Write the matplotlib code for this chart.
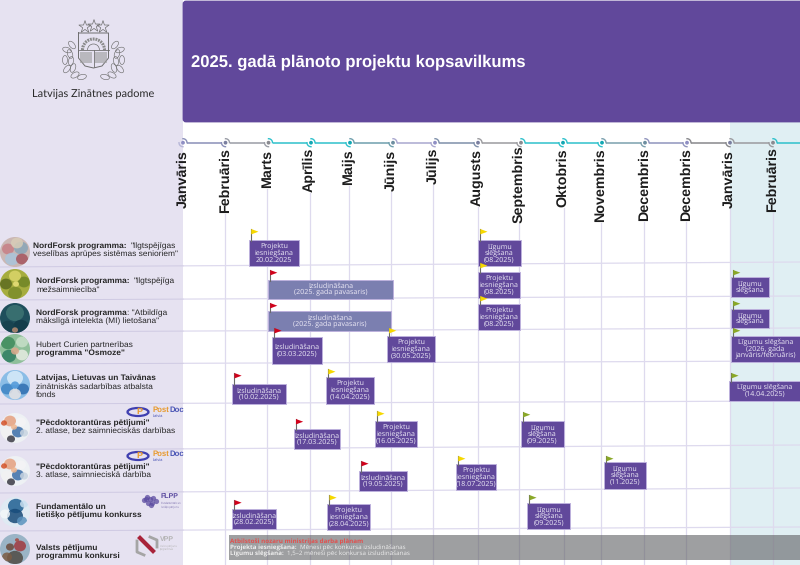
import numpy as np
import matplotlib
matplotlib.use("Agg")
import matplotlib.pyplot as plt
from matplotlib.patches import Rectangle, FancyBboxPatch, Circle, Ellipse, Polygon, Arc

plt.rcParams["text.hinting"] = "no_hinting"
plt.rcParams["text.hinting_factor"] = 8

# ---------- data ----------
title = "2025. gadā plānoto projektu kopsavilkums"
org_name = "Latvijas Zinātnes padome"
month_names = ["Janvāris", "Februāris", "Marts", "Aprīlis", "Maijs", "Jūnijs", "Jūlijs", "Augusts",
               "Septembris", "Oktobris", "Novembris", "Decembris", "Decembris", "Janvāris", "Februāris"]
month_index = list(range(16))

event_text = [
    "Projektu\niesniegšana\n20.02.2025", "Līgumu\nslēgšana\n(08.2025)",
    "Izsludināšana\n(2025. gada pavasaris)", "Projektu\niesniegšana\n(08.2025)", "Līgumu\nslēgšana",
    "Izsludināšana\n(2025. gada pavasaris)", "Projektu\niesniegšana\n(08.2025)", "Līgumu\nslēgšana",
    "Izsludināšana\n(03.03.2025)", "Projektu\niesniegšana\n(30.05.2025)",
    "Līgumu slēgšana\n(2026. gada\njanvāris/februāris)",
    "Izsludināšana\n(10.02.2025)", "Projektu\niesniegšana\n(14.04.2025)", "Līgumu slēgšana\n(14.04.2025)",
    "Izsludināšana\n(17.03.2025)", "Projektu\niesniegšana\n(16.05.2025)", "Līgumu\nslēgšana\n(09.2025)",
    "Izsludināšana\n(19.05.2025)", "Projektu\niesniegšana\n(18.07.2025)", "Līgumu\nslēgšana\n(11.2025)",
    "Izsludināšana\n(28.02.2025)", "Projektu\niesniegšana\n(28.04.2025)", "Līgumu\nslēgšana\n(09.2025)",
]
event_start = [1.57, 7.0, 2.02, 7.0, 13.02, 2.02, 7.0, 13.02, 2.12, 4.9, 13.02, 1.17, 3.41, 12.98,
               2.62, 4.62, 8.04, 4.24, 6.51, 10.07, 1.17, 3.44, 8.18]
event_end = [2.74, 8.04, 5.05, 8.02, 13.9, 5.01, 8.02, 13.9, 3.3, 6.04, 14.63, 2.44, 4.59, 14.63,
             3.77, 5.62, 9.0, 5.38, 7.44, 11.05, 2.21, 4.5, 9.16]
event_flag = ["y", "y", "r", "y", "g", "r", "y", "g", "r", "y", "g", "r", "y", "g",
              "r", "y", "g", "r", "y", "g", "r", "y", "g"]

# ---------- layout ----------
month_px = [183, 225, 267, 310, 349, 391, 433, 478, 519, 564, 601, 644, 686, 730, 773, 816]
node_px = [183, 225.5, 268.5, 311, 350, 393, 435, 478, 521, 563, 602, 645, 687, 730, 773]
label_px = [183, 225, 267, 309, 349, 391, 433, 477, 519, 563, 600, 644, 686, 729, 772]
label_top = [150, 148, 150, 148, 149, 150, 148, 149, 145, 148, 148, 148, 148, 150, 147]
event_top = [240, 240, 280, 272, 277, 311, 304, 309, 337, 336, 336, 384, 377, 381,
             429, 421, 421, 471, 464, 462, 509, 504, 503]
event_bot = [266, 266, 299, 298, 297, 331, 330, 328, 364, 362, 362, 404, 404, 401,
             449, 447, 447, 491, 490, 489, 529, 530, 529]
flag_top = [229, 229, 270, 263, 270, 303, 296, 301, 328, 328, 328, 373, 369, 373,
            419, 411, 412, 461, 456, 456, 500, 495, 495]
flag_off = 2
row_left = [267, 300, 332, 364, 404, 450, 493, 531]
row_right = [262, 296, 328, 361, 401, 445, 488, 527]
seg_colors = ["#8a8fb8", "#9a9da6", "#2fc1cb", "#2fc1cb", "#6f9fad", "#aaa8cf", "#7f90aa", "#9b9b9f",
              "#2fc1cb", "#2fc1cb", "#7ba0ae", "#9094bd", "#88888c", "#9b9b9f", "#2fc1cb"]
node_colors = ["#8f8fc4", "#7a7fa0", "#8a8a90", "#12a7b3", "#12a7b3", "#6d8ea0", "#8f8fc4", "#7a7fa0",
               "#8a8a90", "#12a7b3", "#12a7b3", "#6d8ea0", "#8f8fc4", "#7a7fa0", "#8a8a90"]
flag_colors = {"r": "#d0021b", "y": "#f6d800", "g": "#8aa827"}
PURPLE, PANEL = "#61489b", "#e6e2f1"
SANS, OPEN = "Liberation Sans", "Open Sans"


def mx(m):
    return float(np.interp(m, month_index, month_px))


fig = plt.figure(figsize=(8, 5.65), dpi=100)
ax = fig.add_axes([0, 0, 1, 1])
ax.set_xlim(0, 800)
ax.set_ylim(565, 0)
ax.axis("off")

# backgrounds
ax.add_patch(Rectangle((730, 122), 70, 443, fc="#e0eff3", ec="none", zorder=0))
ax.add_patch(Rectangle((0, 0), 183, 565, fc=PANEL, ec="none", zorder=6))
ax.add_patch(FancyBboxPatch((184, 2), 640, 119, boxstyle="round,pad=0,rounding_size=2",
                            fc=PURPLE, ec=PURPLE, lw=2, zorder=7, clip_on=True))
title_artist = ax.text(191, 62, title, color="white", fontsize=12.0, fontweight="bold", family=SANS,
                       va="center", ha="left", zorder=8)

# timeline
TY = 142.7
th = np.linspace(0, np.pi / 2, 12)
for i in range(len(node_px)):
    x0 = node_px[i]
    x1 = node_px[i + 1] - 4 if i + 1 < len(node_px) else 800
    ax.plot([x0 + 4, x1], [TY, TY], color=seg_colors[i], lw=1.1, zorder=2, solid_capstyle="butt")
    ax.add_patch(Circle((x0, TY), 1.9, fc=node_colors[i], ec="none", zorder=8))
    # hook into the next segment (upper right) and back towards the previous one (lower left)
    ax.plot(x0 + 4 * np.sin(th), TY - 4 * np.cos(th), color=seg_colors[i], lw=1.0, zorder=8)
    ax.plot(x0 - 4 * np.cos(th), TY + 4 * np.sin(th), color=seg_colors[i - 1] if i else "#b7b7d8",
            lw=1.0, zorder=8)

fig.canvas.draw()
rend = fig.canvas.get_renderer()
inv = ax.transData.inverted()

# month labels + grid
for i, name in enumerate(month_names):
    t = ax.text(label_px[i], label_top[i], name, rotation=90, ha="center", va="top", fontsize=10.3,
                family=SANS, fontweight="bold", color="#1c1c1c", zorder=8)
    ybot = inv.transform((0, t.get_window_extent(rend).y0))[1]
    if i > 0:
        ax.plot([month_px[i], month_px[i]], [ybot + 1, 565], color="#dedaee", lw=0.9, zorder=1)

# row separators
for yl, yr in zip(row_left, row_right):
    ax.plot([0, 800], [yl, yr], color="#dedaee", lw=0.9, zorder=1)
    ax.plot([0, 183], [yl, yl - 183 * (yl - yr) / 800], color="#cfcae3", lw=0.7, zorder=6.5)

# events
for s, e, tp, bt, ft, fl, tx in zip(event_start, event_end, event_top, event_bot, flag_top, event_flag, event_text):
    x0, x1 = mx(s), mx(e)
    fc = "#7b7fb0" if "pavasaris" in tx else PURPLE
    ax.add_patch(Rectangle((x0, tp), x1 - x0, bt - tp, fc=fc, ec="#bdb1dd", lw=0.7, zorder=4))
    ax.text((x0 + x1) / 2, (tp + bt) / 2, tx, color="#ece9f6", fontsize=5.1, family=OPEN,
            ha="center", va="center", linespacing=0.92, zorder=5, clip_on=True)
    px = x0 + flag_off
    ax.plot([px, px], [ft, tp + 1], color="#6a6a6a", lw=0.8, zorder=5)
    ax.add_patch(Polygon([(px + .3, ft), (px + 7.5, ft + 2.7), (px + .3, ft + 5.4)],
                         closed=True, fc=flag_colors[fl], ec="none", zorder=5))

# grey note band
ax.add_patch(Rectangle((229, 535), 571, 25, fc="#5e5f62", alpha=0.6, ec="none", zorder=5))
ax.text(230, 541.6, "Atbilstoši nozaru ministrijas darba plānam", color="#e2504e", fontsize=4.5,
        family=OPEN, fontweight="bold", va="center", zorder=6)


def runs(x, y, parts, size=6.0, color="#262626", zorder=8, family=SANS):
    for txt, bold in parts:
        t = ax.text(x, y, txt, fontsize=size, family=family, color=color, va="center", ha="left",
                    fontweight="bold" if bold else "normal", zorder=zorder)
        x = inv.transform((t.get_window_extent(rend).x1, 0))[0]
        if txt.endswith(" "):
            x += size * 0.38


runs(230, 547.8, [("Projekta iesniegšana: ", True), ("Mēnesi pēc konkursa izsludināšanas", False)],
     size=4.5, color="#eeeeee", family=OPEN)
runs(230, 554, [("Līgumu slēgšana: ", True), ("1,5–2 mēneši pēc konkursa izsludināšanas", False)],
     size=4.5, color="#eeeeee", family=OPEN)

# left labels
runs(33, 246, [("NordForsk programma: ", True), ("\"Ilgtspējīgas", False)])
runs(33, 254.3, [("veselības aprūpes sistēmas senioriem\"", False)])
runs(36, 281, [("NordForsk programma: ", True), ("\"Ilgtspējīga", False)])
runs(36, 289.5, [("mežsaimniecība\"", False)])
runs(36, 313, [("NordForsk programma", True), (": \"Atbildīga", False)])
runs(36, 321.3, [("mākslīgā intelekta (MI) lietošana\"", False)])
runs(36, 345, [("Hubert Curien partnerības", False)])
runs(36, 353.3, [("programma \"Osmoze\"", True)])
runs(36, 378.5, [("Latvijas, Lietuvas un Taivānas", True)])
runs(36, 387, [("zinātniskās sadarbības atbalsta", False)])
runs(36, 395, [("fonds", False)])
runs(36, 423.3, [("\"Pēcdoktorantūras pētījumi\"", True)])
runs(36, 431, [("2. atlase, bez saimnieciskās darbības", False)])
runs(36, 467, [("\"Pēcdoktorantūras pētījumi\"", True)])
runs(36, 475.3, [("3. atlase, saimnieciskā darbība", False)])
runs(36, 506.5, [("Fundamentālo un", True)])
runs(36, 515, [("lietišķo pētījumu konkurss", True)])
runs(36, 548, [("Valsts pētījumu", True)])
runs(36, 556.5, [("programmu konkursi", True)])


def photo(cx, cy, base, blobs, r=15):
    clip = Circle((cx, cy), r, transform=ax.transData)
    ax.add_patch(Circle((cx, cy), r, fc=base, ec="none", zorder=7))
    for dx, dy, br, c in blobs:
        p = Ellipse((cx + dx, cy + dy), 2 * br, 2 * br * 0.9, fc=c, ec="none", alpha=0.85, zorder=7.1)
        ax.add_patch(p)
        p.set_clip_path(clip)


team = [(-5, -7, 6, "#e5a07f"), (6, -6, 5, "#f4f4f6"), (-8, 5, 6, "#f2f2f2"), (3, 4, 6, "#3b6ea8"),
        (-1, -1, 3, "#eeb48e"), (9, 5, 4, "#c8d4e0"), (-4, 11, 4, "#3a3a44"), (-11, -5, 3, "#d4532a")]
photo(15, 252, "#cbb7b4", [(-7, -3, 6, "#c77f86"), (6, -4, 7, "#8aa6b8"), (-3, 7, 7, "#a9c4da"),
                           (7, 7, 6, "#a6545e"), (2, -9, 6, "#d8cdb8")])
photo(15, 284, "#a6ad3f", [(-9, 0, 6, "#5d6c20"), (9, -2, 6, "#6f8426"), (0, -8, 6, "#dbd66a"),
                           (0, 9, 7, "#7b8d2a"), (1, 0, 3, "#e9e07a")])
photo(15, 318, "#1f4f5c", [(0, -5, 9, "#3d7473"), (6, 9, 8, "#123a48"), (-7, 9, 7, "#17414e"),
                           (0, 12, 3, "#b98d73")])
photo(15, 349, "#8fbf9a", [(-7, -6, 7, "#3d8a5b"), (7, -7, 6, "#c7e0c8"), (-6, 7, 7, "#2f7d62"),
                           (7, 6, 6, "#e7ece2"), (0, 2, 4, "#dca98c")])
photo(15, 385, "#8bbde6", [(0, -7, 8, "#d8ecf9"), (-8, 4, 6, "#3e84c4"), (8, 4, 6, "#2f6db0"),
                           (0, 9, 6, "#e8e4e4"), (0, 0, 4, "#4d97d8")])
photo(15, 428, "#eef1f4", team)
photo(15, 471, "#eef1f4", team)
photo(15, 512, "#dfeaf3", [(1, -6, 8, "#1f5f92"), (0, 4, 8, "#174a78"), (-10, 2, 5, "#f4f7fa"),
                           (7, 9, 5, "#5a92bd"), (9, -8, 4, "#c9dff0")])
photo(15, 549, "#9ab4c6", [(5, -3, 6, "#a13a3f"), (-5, -2, 4, "#6c4a3c"), (0, 9, 8, "#4f4a44"),
                           (-8, 8, 5, "#7c5c44"), (2, -9, 2, "#a8483f")])

# coat of arms
G = "#6e6e6e"
ax.scatter([85, 94, 103], [27, 26, 27], marker="*", s=85, facecolors="none", edgecolors=G, linewidths=0.5, zorder=8)
ax.plot([78.5, 78.5, 85, 93.5, 102, 108.5, 108.5, 78.5], [33, 58, 66, 68, 66, 58, 33, 33], color=G, lw=0.7, zorder=8)
ax.plot([78.5, 108.5], [50, 50], color=G, lw=0.6, zorder=8)
ax.plot([93.5, 93.5], [50, 67], color=G, lw=0.6, zorder=8)
ax.add_patch(Rectangle((80, 52), 12, 11, fc="#9c9c9c", ec="none", alpha=0.6, zorder=8))
ax.add_patch(Rectangle((95, 52), 12, 11, fc="#9c9c9c", ec="none", alpha=0.6, zorder=8))
ax.add_patch(Arc((93.5, 50), 22, 22, theta1=180, theta2=360, color="#8a8a8a", lw=2.2, ls=(0, (0.6, 0.3)), zorder=8))
ax.add_patch(Arc((93.5, 50), 12, 12, theta1=180, theta2=360, color=G, lw=0.5, zorder=8))
for lx, sgn in [(74, 1), (113, -1)]:
    for dx, dy, ang in [(-2, -15, 50), (-7, -10, 20), (-4, -6, 70), (-9, 0, 90), (-3, 1, 100),
                        (-7, 9, 130), (-1, 8, 110), (1, 15, 150), (8, 17, 165)]:
        ax.add_patch(Ellipse((lx + sgn * dx, 60 + dy), 9, 5, angle=sgn * ang, fc="none", ec=G, lw=0.45, zorder=8))
ax.text(93.5, 94, org_name, fontsize=7.9, family="Lato", color="#2a2a2a", ha="center", va="center", zorder=8)


# programme logos
def postdoc(y):
    ax.add_patch(Ellipse((138, y), 21, 8, fc="none", ec="#3f3fb0", lw=1.6, zorder=8))
    ax.text(139, y, "P", fontsize=6.5, fontweight="bold", family=SANS, color="#e89a2d", ha="center", va="center", zorder=8)
    t = ax.text(152.5, y - 2, "Post", fontsize=5.6, fontweight="bold", family=SANS, color="#e89a2d", va="center", zorder=8)
    ax.text(inv.transform((t.get_window_extent(rend).x1, 0))[0] + 0.3, y - 2, "Doc", fontsize=5.6, fontweight="bold",
            family=SANS, color="#4a55b5", va="center", zorder=8)
    ax.text(152.5, y + 3.6, "Latvia", fontsize=2.8, family=SANS, color="#4a55b5", va="center", zorder=8)


postdoc(412)
postdoc(456)
ax.scatter([144, 147, 150, 153, 156, 148, 152, 146, 151], [500, 497, 499, 498, 501, 503, 503, 499, 505],
           s=14, color="#5b4ba0", alpha=0.75, linewidths=0, zorder=8)
ax.text(161, 496.5, "FLPP", fontsize=5, fontweight="bold", family=SANS, color="#5b4ba0", va="center", zorder=8)
ax.text(161, 504.5, "Fundamentālo un\nlietišķo pētījumu", fontsize=1.8, family=SANS, color="#7c70ad", va="center", zorder=8)
ax.plot([140, 153], [538, 551], color="#a8233a", lw=3, zorder=8)
ax.plot([137, 137, 144], [541, 552, 555], color="#a5a5a5", lw=2, zorder=8)
ax.plot([150, 157, 157], [537, 540, 547], color="#a5a5a5", lw=2, zorder=8)
ax.text(160, 539.5, "VPP", fontsize=5, fontweight="bold", family=SANS, color="#b4b4b4", va="center", zorder=8)
ax.text(160, 547.5, "Valsts pētījumu\nprogrammas", fontsize=1.8, family=SANS, color="#b4b4b4", va="center", zorder=8)

fig.savefig("out.png", dpi=100, facecolor="white")
